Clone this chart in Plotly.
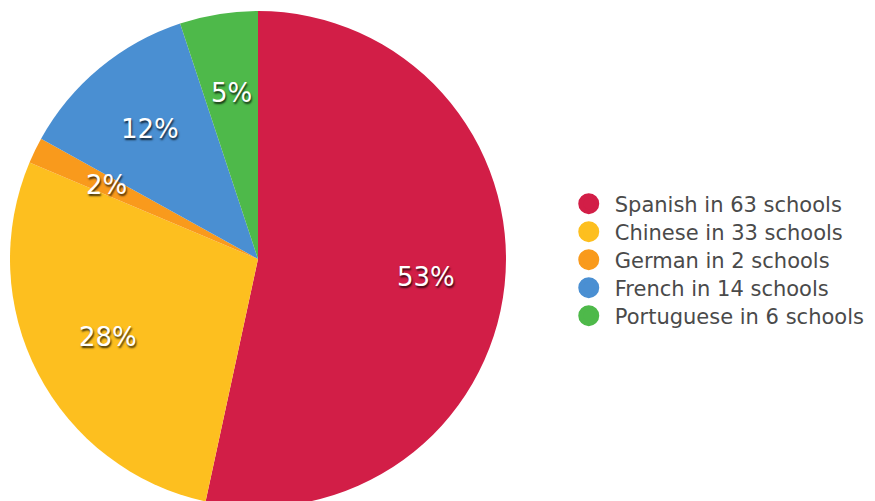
import math
import plotly.graph_objects as go

languages = ["Spanish", "Chinese", "German", "French", "Portuguese"]
schools = [63, 33, 2, 14, 6]
colors = ["#D21E47", "#FDBF1F", "#F99A1C", "#4A8FD2", "#4EB94A"]
legend_labels = [f"{l} in {n} schools" for l, n in zip(languages, schools)]

W, H = 875, 501
dom_x = [2 / W, 498 / W]
dom_y = [2 / H, 498 / H]

fig = go.Figure()
fig.add_trace(go.Pie(
    labels=languages, values=schools, sort=False, direction="clockwise",
    rotation=0, marker=dict(colors=colors, line=dict(width=0)),
    textinfo="none", hoverinfo="label+percent", showlegend=False,
    domain=dict(x=dom_x, y=dom_y),
))

# legend entries with circle markers, one legend per row for exact spacing
legend_font = dict(family="DejaVu Sans", size=21, color="#4a4a4a")
row_top = 196   # px from top of first row centre
row_gap = 28
layout_legends = {}
for i, (lab, col) in enumerate(zip(legend_labels, colors)):
    lname = "legend" if i == 0 else f"legend{i + 1}"
    fig.add_trace(go.Scatter(x=[None], y=[None], mode="markers", name=lab,
                             legend=lname,
                             marker=dict(symbol="circle", size=16, color=col,
                                         line=dict(width=5, color=col))))
    layout_legends[lname] = dict(
        x=0.634, y=(H - (row_top + i * row_gap)) / H,
        xanchor="left", yanchor="middle", font=legend_font,
        itemsizing="trace", itemwidth=42, bgcolor="rgba(0,0,0,0)")

# percentage labels placed along slice bisectors
total = sum(schools)
cx = (dom_x[0] + dom_x[1]) / 2 * W
cy_from_bottom = (dom_y[0] + dom_y[1]) / 2 * H
r = min((dom_x[1] - dom_x[0]) * W, (dom_y[1] - dom_y[0]) * H) / 2
cum = 0
for v in schools:
    mid = (cum + v / 2) / total
    cum += v
    ang = 2 * math.pi * mid
    px = cx + 0.68 * r * math.sin(ang)
    py = cy_from_bottom + 0.68 * r * math.cos(ang)
    fig.add_annotation(x=px / W, y=py / H, xref="paper", yref="paper",
                       xanchor="center", yanchor="middle",
                       text=f"{round(100 * v / total)}%", showarrow=False,
                       font=dict(family="DejaVu Sans", size=26, color="white",
                                 shadow="1px 2px 2px rgba(0,0,0,0.75)"))

fig.update_layout(
    width=W, height=H, margin=dict(l=0, r=0, t=0, b=0),
    paper_bgcolor="white", plot_bgcolor="white",
    xaxis=dict(visible=False), yaxis=dict(visible=False),
    font=dict(family="DejaVu Sans"),
    **layout_legends,
)

fig.write_html("out.html")
